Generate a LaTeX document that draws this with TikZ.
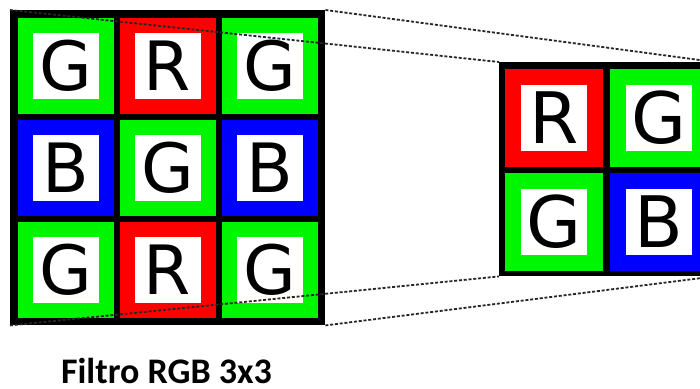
\documentclass[tikz,border=0pt]{standalone}
\usepackage{fontspec}
\setmainfont{Carlito}
\newfontfamily\cellfont{DejaVu Sans}
\definecolor{cellred}{RGB}{255,0,0}
\definecolor{cellgreen}{RGB}{0,245,0}
\definecolor{cellblue}{RGB}{0,0,255}
\begin{document}
\begin{tikzpicture}[x=1pt,y=-1pt,
  gridback/.style={fill=black,draw=none,inner sep=0pt,anchor=north west},
  bigcell/.style={fill=white,draw=#1,line width=15pt,minimum size=81pt,inner sep=0pt,
    text depth=0pt,font=\cellfont\fontsize{68}{68}\selectfont},
  smallcell/.style={fill=white,draw=#1,line width=16pt,minimum size=82pt,inner sep=0pt,
    text depth=0pt,font=\cellfont\fontsize{71}{71}\selectfont},
  projline/.style={draw=black!85,line width=1.8pt,dash pattern=on 3pt off 1.8pt},
  caption/.style={font=\bfseries\fontsize{36}{36}\selectfont,anchor=base,
    inner sep=0pt,text depth=0pt}]
\clip (0,0) rectangle (700,388);
\fill[white] (0,0) rectangle (700,388);

% 3x3 filter
\node[gridback,minimum width=315pt,minimum height=315pt] (big) at (10,10) {};
\node[bigcell=cellgreen] (b11) at (65.5,65.5)  {G};
\node[bigcell=cellred]   (b12) at (167.5,65.5) {R};
\node[bigcell=cellgreen] (b13) at (269.5,65.5) {G};
\node[bigcell=cellblue]  (b21) at (65.5,167.5)  {B};
\node[bigcell=cellgreen] (b22) at (167.5,167.5) {G};
\node[bigcell=cellblue]  (b23) at (269.5,167.5) {B};
\node[bigcell=cellgreen] (b31) at (65.5,269.5)  {G};
\node[bigcell=cellred]   (b32) at (167.5,269.5) {R};
\node[bigcell=cellgreen] (b33) at (269.5,269.5) {G};

% 2x2 block
\node[gridback,minimum width=215pt,minimum height=214pt] (small) at (499,62) {};
\node[smallcell=cellred]   (s11) at (554,117.5) {R};
\node[smallcell=cellgreen] (s12) at (659,117.5) {G};
\node[smallcell=cellgreen] (s21) at (554,221.5) {G};
\node[smallcell=cellblue]  (s22) at (659,221.5) {B};

% projection lines
\draw[projline] (big.north west) -- (small.north west);
\draw[projline] (big.south west) -- (small.south west);
\draw[projline] (big.north east) -- (small.north east);
\draw[projline] (big.south east) -- (small.south east);

\node[caption] (title) at (166.5,383.5) {Filtro RGB 3x3};
\end{tikzpicture}
\end{document}
